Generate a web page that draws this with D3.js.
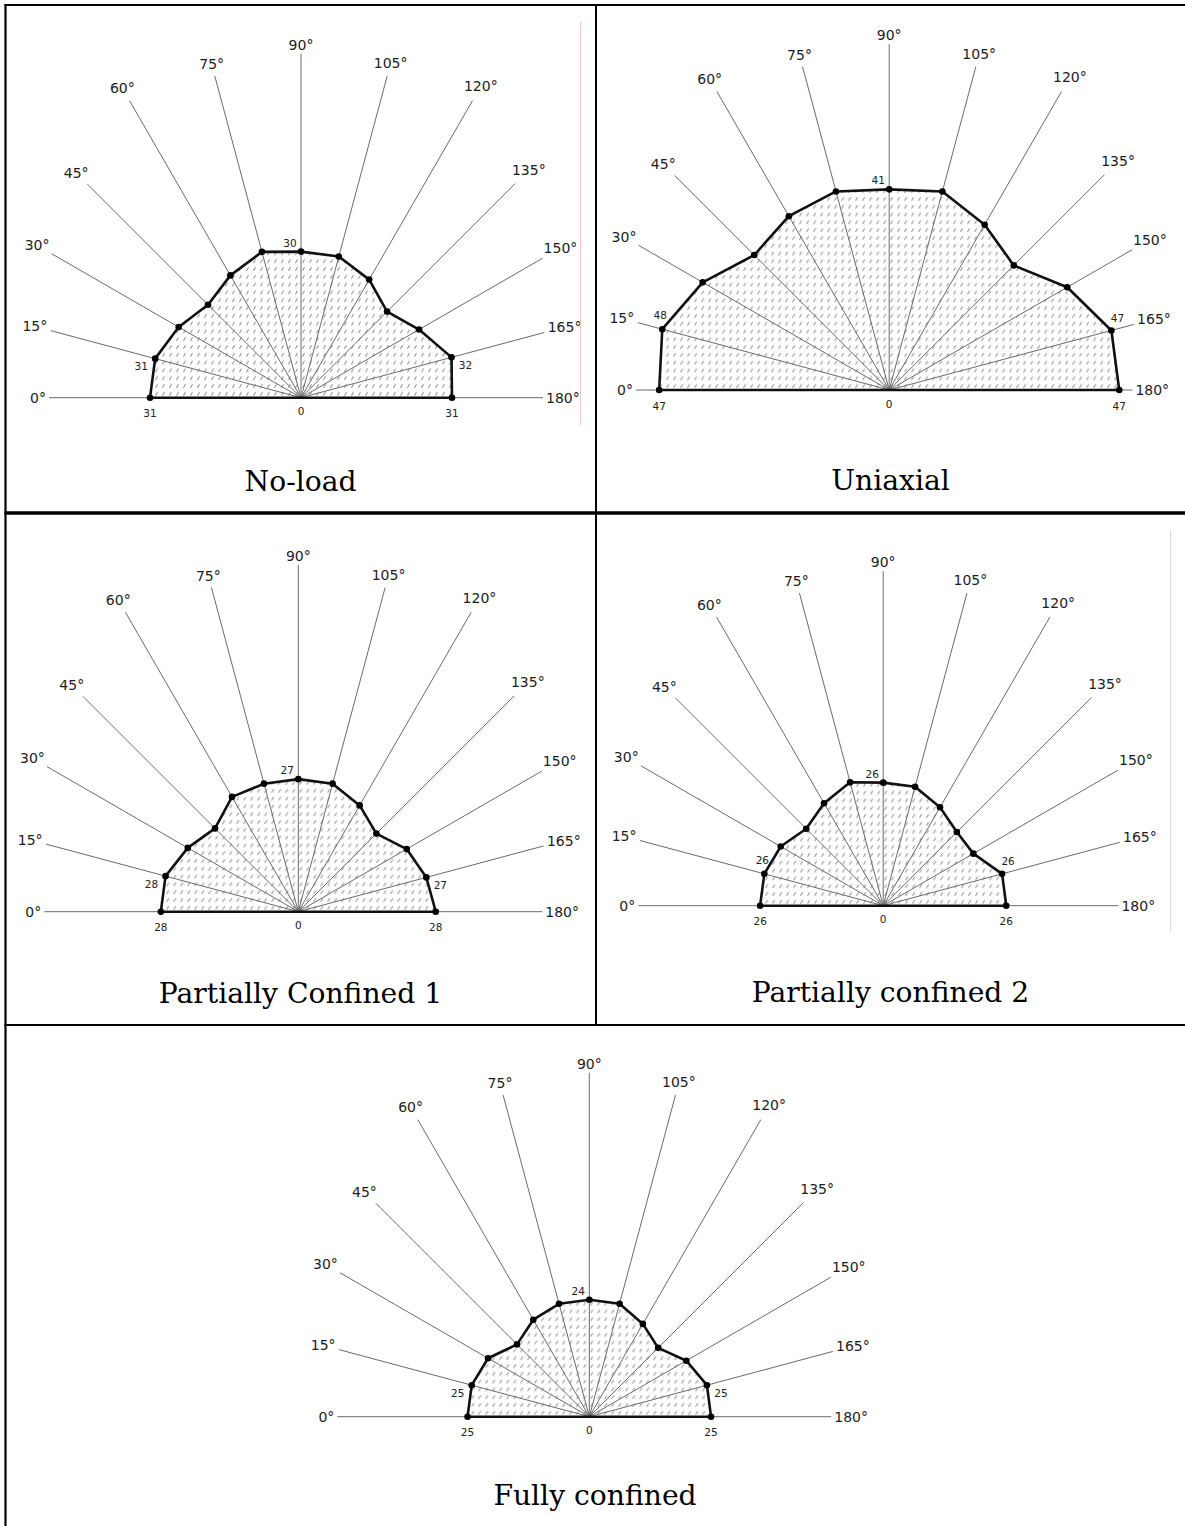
<!DOCTYPE html>
<html>
<head>
<meta charset="utf-8">
<script src="https://cdn.jsdelivr.net/npm/d3@7/dist/d3.min.js"></script>
<style>
  html, body { margin: 0; padding: 0; background: #fff; }
  svg { display: block; }
</style>
</head>
<body>
<svg id="chart" width="1185" height="1526"></svg>
<script>
// Spoke directions, in degrees, and their labels
const angles = [0, 15, 30, 45, 60, 75, 90, 105, 120, 135, 150, 165, 180];
const angleLabels = ["0°", "15°", "30°", "45°", "60°", "75°", "90°", "105°", "120°", "135°", "150°", "165°", "180°"];

// Radial values per spoke for each loading condition
const noLoad             = [31, 31, 29, 27, 29, 31, 30, 30, 28, 25, 28, 32, 31];
const uniaxial           = [47, 48, 44, 39, 41, 42, 41, 42, 39, 36, 42, 47, 47];
const partiallyConfined1 = [28, 28, 26, 24, 27, 27, 27, 27, 25, 22.5, 25.5, 27, 28];
const partiallyConfined2 = [26, 26, 25, 23, 25, 27, 26, 26, 24, 22, 22, 26, 26];
const fullyConfined      = [25, 25, 24, 21, 23, 24, 24, 24, 22, 20, 23, 25, 25];

const panelTitles = ["No-load", "Uniaxial", "Partially Confined 1", "Partially confined 2", "Fully confined"];

// Spokes whose value is printed next to the vertex
const labelledAngles = [0, 15, 90, 165, 180];

// ---- layout ----
const W = 1185, H = 1526;
const BASE_K = 4.87;                 // pixels per unit of radius
// spoke reach in pixels (outer end of each guide line), per angle
const spokeReach = [252, 259, 288, 302, 343, 333, 344, 333, 343, 303, 279, 252, 242];

const panels = [
  { values: noLoad,             title: panelTitles[0], cx: 301,   cy: 397.7,  s: 1.0,   tx: 300.5, ty: 491,  side: "out" },
  { values: uniaxial,           title: panelTitles[1], cx: 889.2, cy: 390,    s: 1.005, tx: 890.5, ty: 490,  side: "up"  },
  { values: partiallyConfined1, title: panelTitles[2], cx: 298.3, cy: 911.7,  s: 1.008, tx: 300.5, ty: 1003, side: "out" },
  { values: partiallyConfined2, title: panelTitles[3], cx: 883.2, cy: 905.7,  s: 0.972, tx: 890.5, ty: 1002, side: "up"  },
  { values: fullyConfined,      title: panelTitles[4], cx: 589.3, cy: 1416.7, s: 1.0,   tx: 595,   ty: 1505, side: "out" }
];

const labelFont = "'DejaVu Sans', Verdana, sans-serif";
const svg = d3.select("#chart");

// dotted hatch fill used inside each outline
const defs = svg.append("defs");
const pat = defs.append("pattern")
  .attr("id", "hatch")
  .attr("patternUnits", "userSpaceOnUse")
  .attr("width", 7).attr("height", 7.8);
pat.append("rect").attr("width", 7).attr("height", 7.8).attr("fill", "#fff");
pat.append("line")
  .attr("x1", 1.6).attr("y1", 5.3).attr("x2", 3.4).attr("y2", 2.5)
  .attr("stroke", "#8a8a8a").attr("stroke-width", 1).attr("stroke-linecap", "round");

// angle (degrees) -> d3 radial angle (0° to the left, 90° up, 180° to the right)
const angleScale = d3.scaleLinear().domain([0, 180]).range([-Math.PI / 2, Math.PI / 2]);

panels.forEach(p => {
  const k = BASE_K * p.s;
  const r = d3.scaleLinear().domain([0, 50]).range([0, 50 * k]);
  const g = svg.append("g").attr("transform", `translate(${p.cx},${p.cy})`);

  const pts = angles.map((a, i) => {
    const [x, y] = d3.pointRadial(angleScale(a), r(p.values[i]));
    return { a, i, v: p.values[i], x, y };
  });

  // filled outline (closed through the centre along the baseline)
  const outline = d3.lineRadial()
    .angle(d => angleScale(d.a))
    .radius(d => r(d.v))
    .curve(d3.curveLinearClosed);

  g.append("path")
    .datum(pts)
    .attr("d", outline)
    .attr("fill", "url(#hatch)")
    .attr("stroke", "none");

  // spokes
  angles.forEach((a, i) => {
    const reach = spokeReach[i] * p.s;
    const [ex, ey] = d3.pointRadial(angleScale(a), reach);
    g.append("line")
      .attr("x1", 0).attr("y1", 0).attr("x2", ex).attr("y2", ey)
      .attr("stroke", "#6a6a6a").attr("stroke-width", 1);

    // degree label just beyond the spoke end
    const t = g.append("text")
      .text(angleLabels[i])
      .attr("font-family", labelFont)
      .attr("font-size", 14)
      .attr("fill", "#1c1c1c")
      .attr("text-anchor", "middle")
      .attr("dominant-baseline", "central");
    const w = t.node().getComputedTextLength();
    const h = 12;
    const len = Math.hypot(ex, ey);
    const ux = ex / len, uy = ey / len;
    const d = 3 + Math.abs(ux) * w / 2 + Math.abs(uy) * h / 2;
    t.attr("x", ex + ux * d).attr("y", ey + uy * d);
  });

  // outline stroke
  g.append("path")
    .datum(pts)
    .attr("d", outline)
    .attr("fill", "none")
    .attr("stroke", "#111")
    .attr("stroke-width", 2.6)
    .attr("stroke-linejoin", "round");

  // vertices
  g.selectAll("circle.v")
    .data(pts)
    .join("circle")
    .attr("class", "v")
    .attr("cx", d => d.x).attr("cy", d => d.y)
    .attr("r", 3.3)
    .attr("fill", "#000");

  // value labels
  const offset = a => {
    if (a === 0 || a === 180) return [0, 15.5];
    if (a === 90) return [-11, -9];
    if (a === 15) return p.side === "out" ? [-14, 7.5] : [-2, -14];
    if (a === 165) return p.side === "out" ? [14, 7.5] : [6, -12.5];
    return [0, 0];
  };
  pts.filter(d => labelledAngles.includes(d.a)).forEach(d => {
    const [ox, oy] = offset(d.a);
    g.append("text")
      .text(d.v)
      .attr("x", d.x + ox).attr("y", d.y + oy)
      .attr("font-family", labelFont)
      .attr("font-size", 10.5)
      .attr("fill", "#222")
      .attr("text-anchor", "middle")
      .attr("dominant-baseline", "central");
  });
  // origin label
  g.append("text")
    .text(0)
    .attr("x", 0).attr("y", 13.5)
    .attr("font-family", labelFont)
    .attr("font-size", 10.5)
    .attr("fill", "#222")
    .attr("text-anchor", "middle")
    .attr("dominant-baseline", "central");

  // panel caption
  svg.append("text")
    .text(p.title)
    .attr("x", p.tx).attr("y", p.ty)
    .attr("font-family", "'DejaVu Serif', 'Liberation Serif', serif")
    .attr("font-size", 28.2)
    .attr("fill", "#000")
    .attr("text-anchor", "middle");
});

// faint scan edges beside two of the panels
svg.append("line").attr("x1", 580.6).attr("x2", 580.6).attr("y1", 22).attr("y2", 425)
  .attr("stroke", "#f2c4c4").attr("stroke-width", 1);
svg.append("line").attr("x1", 1170.6).attr("x2", 1170.6).attr("y1", 530).attr("y2", 932)
  .attr("stroke", "#e4d4d4").attr("stroke-width", 1);

// table rules
const rule = (x1, y1, x2, y2, w) => svg.append("line")
  .attr("x1", x1).attr("y1", y1).attr("x2", x2).attr("y2", y2)
  .attr("stroke", "#000").attr("stroke-width", w);
rule(5.5, 4, 5.5, H, 2.2);       // left edge
rule(4.4, 5, W, 5, 2.2);         // top edge
rule(596, 5, 596, 1025, 2);      // column divider
rule(4.4, 513, W, 513, 3.5);     // first row divider
rule(4.4, 1025, W, 1025, 2);     // second row divider
</script>
</body>
</html>
